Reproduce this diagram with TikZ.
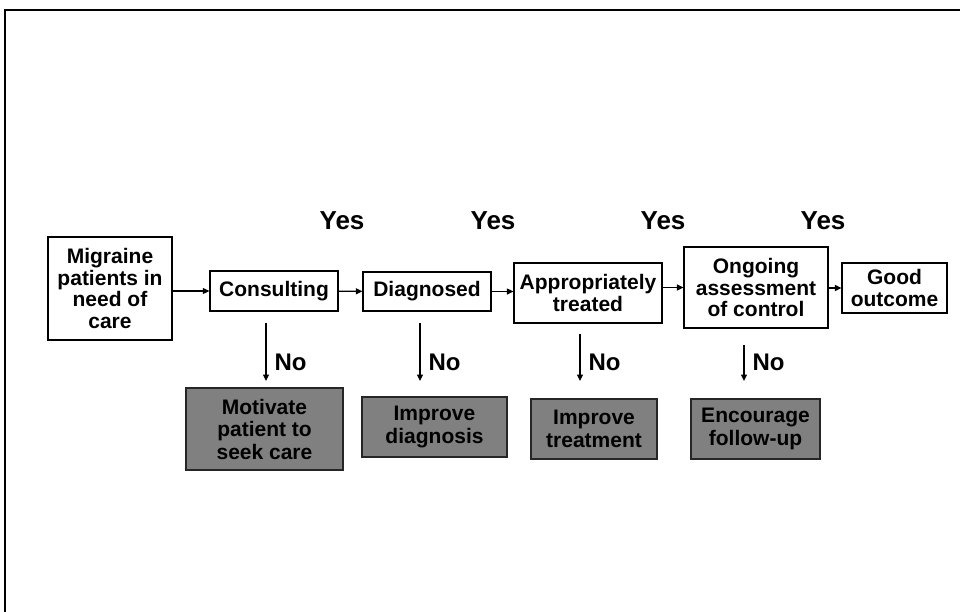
\documentclass[tikz,border=0pt]{standalone}
\usepackage{fontspec}
\setmainfont{Liberation Sans}
\usetikzlibrary{arrows.meta,positioning,calc}
\definecolor{fixgray}{RGB}{128,128,128}

\begin{document}
\begin{tikzpicture}[
    x=1pt, y=-1pt,
    box/.style={draw, line width=1.3pt, align=center, inner sep=0pt, font=\fontsize{21}{21.5}\selectfont\bfseries},
    fix/.style={box, fill=fixgray, line width=1.1pt, draw=black!85, font=\fontsize{21}{22.5}\selectfont\bfseries},
    arr/.style={-{Triangle[length=6.5pt, width=6pt]}, line width=1.3pt},
    yes/.style={font=\fontsize{26}{26}\selectfont\bfseries},
    no/.style={anchor=west, font=\fontsize{24}{24}\selectfont\bfseries},
  ]
  \useasboundingbox (0,0) rectangle (960,612);
  \draw[line width=2.2pt] (5,620) -- (5,10) -- (970,10);

  % main path
  \node[box, minimum width=124pt, minimum height=103pt] (mig) at (110,288.5) {Migraine\\patients in\\need of\\care};
  \node[box, minimum width=128pt, minimum height=40pt] (cons) at (274,291) {Consulting};
  \node[box, minimum width=128pt, minimum height=39pt] (diag) at (427,291.5) {Diagnosed};
  \node[box, minimum width=148pt, minimum height=60pt] (appr) at (588,293) {Appropriately\\treated};
  \node[box, minimum width=144pt, minimum height=81pt] (ongo) at (756,287.5) {Ongoing\\assessment\\of control};
  \node[box, minimum width=105pt, minimum height=50pt] (good) at (894.5,288) {Good\\outcome};

  \node[yes] (yes1) at (342,221) {Yes};
  \node[yes] (yes2) at (493,221) {Yes};
  \node[yes] (yes3) at (663,221) {Yes};
  \node[yes] (yes4) at (823,221) {Yes};

  \draw[arr] (mig.east |- cons) -- (cons.west);
  \draw[arr] (cons) -- (diag);
  \draw[arr] (diag.east) -- (diag.east -| appr.west);
  \draw[arr] (appr.east |- ongo) -- (ongo.west);
  \draw[arr] (ongo.east |- good) -- (good.west);

  % fixes
  \node[fix, minimum width=157pt, minimum height=82pt] (mot) at (264.5,429) {Motivate\\patient to\\seek care};
  \node[fix, minimum width=145pt, minimum height=60pt] (idiag) at (434.5,427) {Improve\\diagnosis};
  \node[fix, minimum width=126pt, minimum height=60pt] (itreat) at (594,429) {Improve\\treatment};
  \node[fix, minimum width=129pt, minimum height=60pt] (efu) at (755.5,429) {Encourage\\follow-up};

  \coordinate (s1) at (266,323);
  \coordinate (e1) at (266,381);
  \coordinate (s2) at (420,323);
  \coordinate (e2) at (420,381);
  \coordinate (s3) at (580,334);
  \coordinate (e3) at (580,381);
  \coordinate (s4) at (744,345);
  \coordinate (e4) at (744,381);

  \draw[arr] (s1) -- (e1);
  \draw[arr] (s2) -- (e2);
  \draw[arr] (s3) -- (e3);
  \draw[arr] (s4) -- (e4);

  \node[no] (no1) at (271,362) {No};
  \node[no] (no2) at (425,362) {No};
  \node[no] (no3) at (585,362) {No};
  \node[no] (no4) at (749,362) {No};
\end{tikzpicture}
\end{document}
